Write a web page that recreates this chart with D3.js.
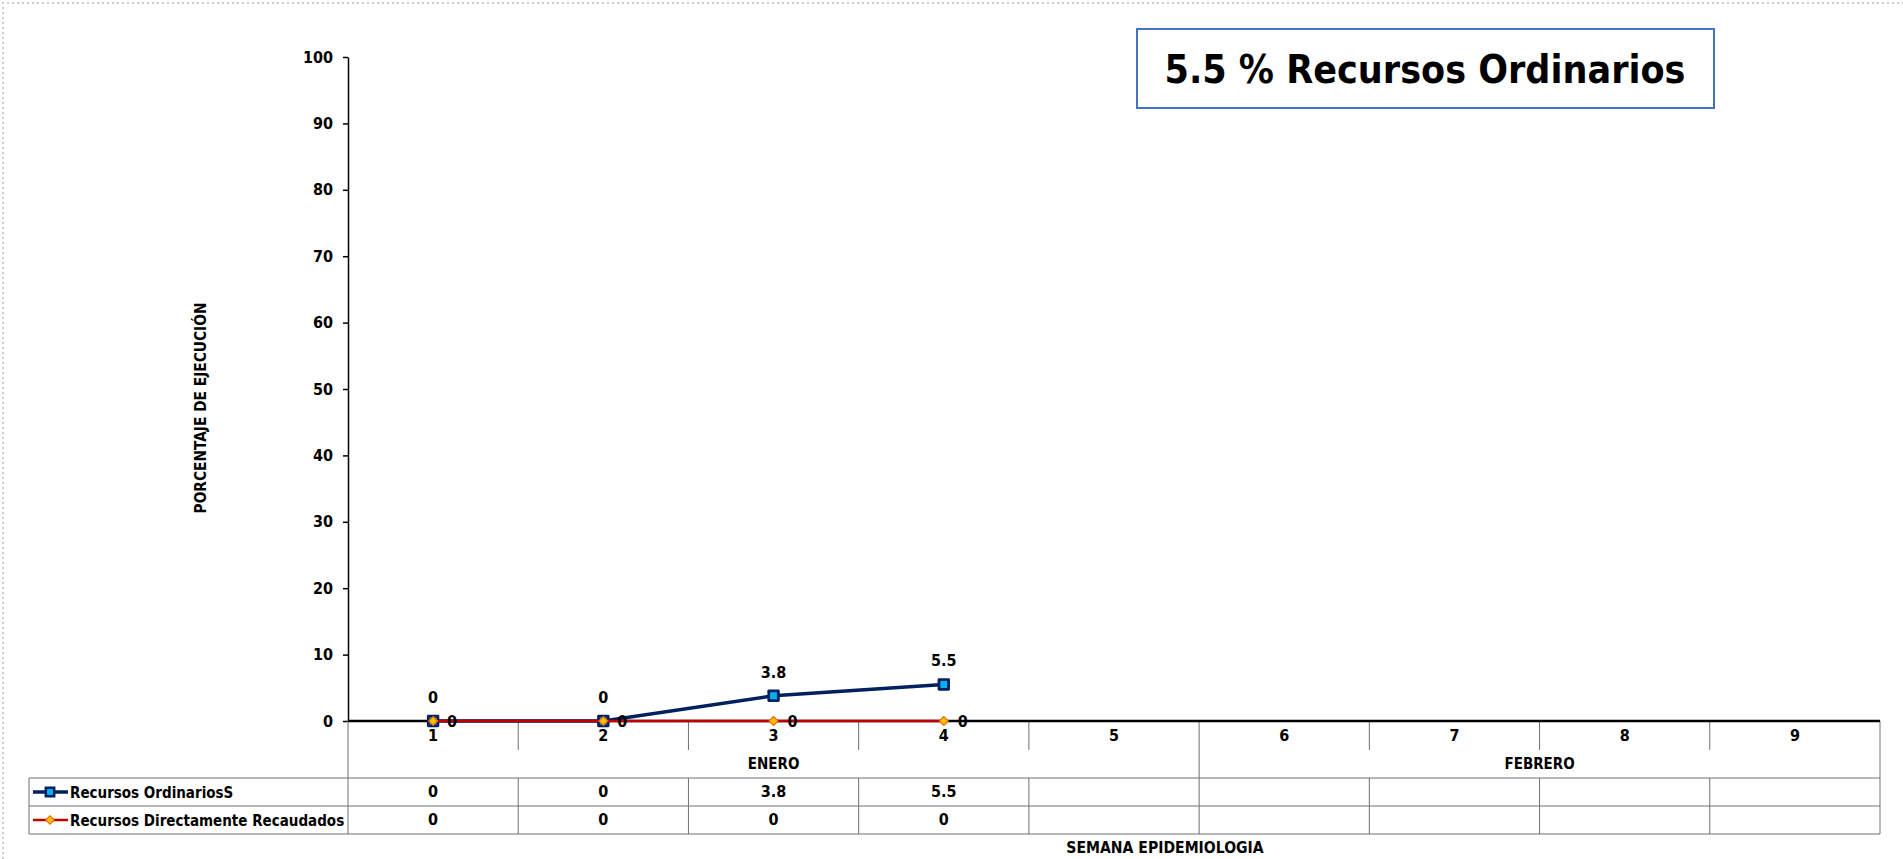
<!DOCTYPE html>
<html>
<head>
<meta charset="utf-8">
<script src="https://cdn.jsdelivr.net/npm/d3@7"></script>
<style>
    body { margin: 0; background: #fff; }
    svg { display: block; }
    text { font-family: "Liberation Sans Narrow", "Arial Narrow", "DejaVu Sans Condensed", sans-serif; font-weight: bold; fill: #000; }
</style>
</head>
<body>
<div id="chart"></div>
<script>
// DATA
const weeks = ["1", "2", "3", "4", "5", "6", "7", "8", "9"];
const monthNames = ["ENERO", "FEBRERO"];
const monthWeeks = [5, 4];
const seriesNames = ["Recursos OrdinariosS", "Recursos Directamente Recaudados"];
const recursosOrdinarios = [0, 0, 3.8, 5.5, null, null, null, null, null];
const recursosDirectos = [0, 0, 0, 0, null, null, null, null, null];
const yTicks = [0, 10, 20, 30, 40, 50, 60, 70, 80, 90, 100];
const titleText = "5.5 % Recursos Ordinarios";

// SET WIDTH, HEIGHT & MARGINS
const width = 1903;
const height = 859;
const plotLeft = 348, plotRight = 1880, plotTop = 57, plotBottom = 721;
const tableLeft = 29;
const catRowBottom = 778;
const rowHeight = 28;

const navy = "#002060";
const cyan = "#00B0F0";
const red = "#C00000";
const gold = "#FFC000";
const orange = "#E46C0A";

const svg = d3.select("#chart")
    .append("svg")
    .attr("width", width)
    .attr("height", height);

// DOTTED PAGE EDGE
svg.append("path")
    .attr("d", "M3," + height + "V3H" + width)
    .attr("fill", "none")
    .attr("stroke", "#c8ccd4")
    .attr("stroke-width", 2)
    .attr("stroke-dasharray", "2,3");

// SCALES
const x = d3.scaleBand()
    .domain(weeks)
    .range([plotLeft, plotRight]);

const y = d3.scaleLinear()
    .domain([0, 100])
    .range([plotBottom, plotTop]);

function cx(i) { return x(weeks[i]) + x.bandwidth() / 2; }

// Y AXIS
const yAxis = svg.append("g")
    .attr("transform", "translate(" + plotLeft + ",0)")
    .call(d3.axisLeft(y).tickValues(yTicks).tickSize(5).tickSizeOuter(0).tickPadding(10));
yAxis.attr("font-family", null).attr("font-size", null);
yAxis.select(".domain").attr("stroke", "#000").attr("stroke-width", 1.5);
yAxis.selectAll(".tick line").attr("stroke", "#000").attr("stroke-width", 1.5);
yAxis.selectAll(".tick text")
    .style("font-size", "16px")
    .attr("fill", "#000");

// Y TITLE
svg.append("text")
    .attr("transform", "translate(206,408) rotate(-90)")
    .attr("text-anchor", "middle")
    .style("font-size", "15.3px")
    .text("PORCENTAJE DE EJECUCIÓN");

// CATEGORY / DATA TABLE
const table = svg.append("g").attr("stroke", "#707070").attr("stroke-width", 1);

// month start indexes
const monthStart = [];
let acc = 0;
monthWeeks.forEach(function (n) { monthStart.push(acc); acc += n; });

weeks.forEach(function (w, i) {
    const xx = x(w);
    const isMonthEdge = monthStart.indexOf(i) >= 0;
    const y1 = isMonthEdge ? catRowBottom + rowHeight * 2 : plotBottom + 29;
    table.append("line")
        .attr("x1", xx).attr("x2", xx)
        .attr("y1", plotBottom).attr("y2", y1);
    if (!isMonthEdge) {
        table.append("line")
            .attr("x1", xx).attr("x2", xx)
            .attr("y1", catRowBottom).attr("y2", catRowBottom + rowHeight * 2);
    }
});
// right edge
table.append("line")
    .attr("x1", plotRight).attr("x2", plotRight)
    .attr("y1", plotBottom).attr("y2", catRowBottom + rowHeight * 2);
// left edge of legend column
table.append("line")
    .attr("x1", tableLeft).attr("x2", tableLeft)
    .attr("y1", catRowBottom).attr("y2", catRowBottom + rowHeight * 2);
// horizontal rows
[0, 1, 2].forEach(function (r) {
    table.append("line")
        .attr("x1", tableLeft).attr("x2", plotRight)
        .attr("y1", catRowBottom + r * rowHeight).attr("y2", catRowBottom + r * rowHeight);
});

// WEEK LABELS
svg.selectAll(".weekLabel")
    .data(weeks)
    .enter().append("text")
    .attr("class", "weekLabel")
    .attr("x", function (d, i) { return cx(i); })
    .attr("y", plotBottom + 20)
    .attr("text-anchor", "middle")
    .style("font-size", "16px")
    .text(function (d) { return d; });

// MONTH LABELS
svg.selectAll(".monthLabel")
    .data(monthNames)
    .enter().append("text")
    .attr("class", "monthLabel")
    .attr("x", function (d, i) {
        const a = x(weeks[monthStart[i]]);
        const b = x(weeks[monthStart[i] + monthWeeks[i] - 1]) + x.bandwidth();
        return (a + b) / 2;
    })
    .attr("y", plotBottom + 48)
    .attr("text-anchor", "middle")
    .style("font-size", "15px")
    .text(function (d) { return d; });

// TABLE VALUES
const tableRows = [recursosOrdinarios, recursosDirectos];
tableRows.forEach(function (vals, r) {
    svg.selectAll(".val" + r)
        .data(vals)
        .enter().append("text")
        .attr("class", "val" + r)
        .attr("x", function (d, i) { return cx(i); })
        .attr("y", catRowBottom + r * rowHeight + 19)
        .attr("text-anchor", "middle")
        .style("font-size", "16px")
        .text(function (d) { return d === null ? "" : d; });
});

// X AXIS LINE
svg.append("line")
    .attr("x1", plotLeft).attr("x2", plotRight)
    .attr("y1", y(0)).attr("y2", y(0))
    .attr("stroke", "#000")
    .attr("stroke-width", 2.5);

// LINES + MARKERS
const line = d3.line()
    .defined(function (d) { return d !== null; })
    .x(function (d, i) { return cx(i); })
    .y(function (d) { return y(d); });

const squareSym = d3.symbol().type(d3.symbolSquare).size(92);
const diamondSym = d3.symbol().type(d3.symbolSquare).size(40);

function pointData(vals) {
    return vals.map(function (v, i) { return { v: v, i: i }; })
        .filter(function (d) { return d.v !== null; });
}

// recursos ordinarios
svg.append("path")
    .datum(recursosOrdinarios)
    .attr("fill", "none")
    .attr("stroke", navy)
    .attr("stroke-width", 3.5)
    .attr("d", line);

svg.selectAll(".sq")
    .data(pointData(recursosOrdinarios))
    .enter().append("path")
    .attr("class", "sq")
    .attr("d", squareSym)
    .attr("transform", function (d) { return "translate(" + cx(d.i) + "," + y(d.v) + ")"; })
    .attr("fill", cyan)
    .attr("stroke", navy)
    .attr("stroke-width", 2.8)
    .attr("stroke-linejoin", "round");

// recursos directamente recaudados
svg.append("path")
    .datum(recursosDirectos)
    .attr("fill", "none")
    .attr("stroke", red)
    .attr("stroke-width", 2.5)
    .attr("d", line);

svg.selectAll(".dm")
    .data(pointData(recursosDirectos))
    .enter().append("path")
    .attr("class", "dm")
    .attr("d", diamondSym)
    .attr("transform", function (d) { return "translate(" + cx(d.i) + "," + y(d.v) + ") rotate(45)"; })
    .attr("fill", gold)
    .attr("stroke", orange)
    .attr("stroke-width", 1.2);

// DATA LABELS
svg.selectAll(".lblRO")
    .data(pointData(recursosOrdinarios))
    .enter().append("text")
    .attr("class", "lblRO")
    .attr("x", function (d) { return cx(d.i); })
    .attr("y", function (d) { return y(d.v) - 18; })
    .attr("text-anchor", "middle")
    .style("font-size", "16px")
    .text(function (d) { return d.v; });

svg.selectAll(".lblRD")
    .data(pointData(recursosDirectos))
    .enter().append("text")
    .attr("class", "lblRD")
    .attr("x", function (d) { return cx(d.i) + 14; })
    .attr("y", function (d) { return y(d.v) + 6; })
    .attr("text-anchor", "start")
    .style("font-size", "16px")
    .text(function (d) { return d.v; });

// LEGEND IN TABLE
const legendColors = [navy, red];
seriesNames.forEach(function (name, r) {
    const cy = catRowBottom + r * rowHeight + rowHeight / 2;
    svg.append("line")
        .attr("x1", tableLeft + 4).attr("x2", tableLeft + 39)
        .attr("y1", cy).attr("y2", cy)
        .attr("stroke", legendColors[r])
        .attr("stroke-width", r === 0 ? 3.5 : 2.5);
    svg.append("path")
        .attr("d", r === 0 ? d3.symbol().type(d3.symbolSquare).size(70)() : d3.symbol().type(d3.symbolSquare).size(36)())
        .attr("transform", "translate(" + (tableLeft + 21) + "," + cy + ")" + (r === 0 ? "" : " rotate(45)"))
        .attr("fill", r === 0 ? cyan : gold)
        .attr("stroke", r === 0 ? navy : orange)
        .attr("stroke-width", r === 0 ? 2.5 : 1.2);
    svg.append("text")
        .attr("x", tableLeft + 41)
        .attr("y", cy + 6)
        .style("font-size", "15px")
        .text(name);
});

// X TITLE
svg.append("text")
    .attr("x", 1165)
    .attr("y", 853)
    .attr("text-anchor", "middle")
    .style("font-size", "15.6px")
    .text("SEMANA EPIDEMIOLOGIA");

// TITLE BOX
svg.append("rect")
    .attr("x", 1137).attr("y", 29)
    .attr("width", 577).attr("height", 79)
    .attr("fill", "#fff")
    .attr("stroke", "#4472C4")
    .attr("stroke-width", 2);

svg.append("text")
    .attr("x", 1425)
    .attr("y", 83)
    .attr("text-anchor", "middle")
    .style("font-size", "39px")
    .text(titleText);
</script>
</body>
</html>
